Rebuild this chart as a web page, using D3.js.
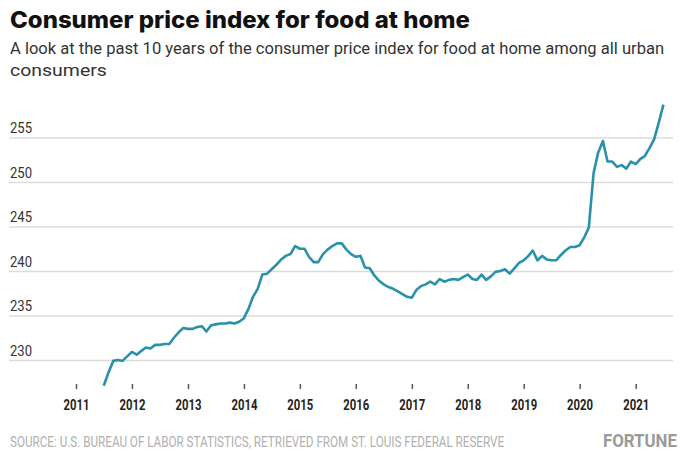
<!DOCTYPE html>
<html>
<head>
<meta charset="utf-8">
<script src="https://cdn.jsdelivr.net/npm/d3@7"></script>
<style>
  body { margin: 0; background: #fff; }
  svg { display: block; }
</style>
</head>
<body>
<script>
var width = 680, height = 452;

// monthly CPI, food at home, Jul 2011 .. Jul 2021
var startMonth = new Date(2011, 6, 1);
var cpi2011 = [227.1, 228.6, 229.9, 230.0, 229.9, 230.4];
var cpi2012 = [230.9, 230.6, 231.0, 231.4, 231.3, 231.7, 231.7, 231.8, 231.8, 232.5, 233.1, 233.6];
var cpi2013 = [233.5, 233.5, 233.7, 233.8, 233.2, 233.9, 234.0, 234.1, 234.1, 234.2, 234.1, 234.3];
var cpi2014 = [234.7, 235.8, 237.1, 238.0, 239.6, 239.7, 240.2, 240.7, 241.3, 241.7, 241.9, 242.8];
var cpi2015 = [242.5, 242.5, 241.6, 241.0, 241.0, 241.9, 242.4, 242.8, 243.1, 243.1, 242.4, 241.9];
var cpi2016 = [241.6, 241.7, 240.4, 240.3, 239.5, 238.9, 238.5, 238.2, 238.0, 237.7, 237.4, 237.1];
var cpi2017 = [237.0, 237.9, 238.3, 238.5, 238.8, 238.5, 239.1, 238.8, 239.0, 239.1, 239.0, 239.3];
var cpi2018 = [239.6, 239.1, 239.0, 239.6, 239.0, 239.4, 239.9, 240.0, 240.2, 239.7, 240.3, 240.9];
var cpi2019 = [241.2, 241.7, 242.3, 241.2, 241.7, 241.3, 241.2, 241.2, 241.8, 242.3, 242.7, 242.7];
var cpi2020 = [242.9, 243.8, 244.9, 251.0, 253.3, 254.6, 252.3, 252.3, 251.7, 251.9, 251.5, 252.3];
var cpi2021 = [252.0, 252.6, 252.9, 253.8, 254.8, 256.7, 258.7];

var yTicks = [230, 235, 240, 245, 250, 255];
var xYears = [2011, 2012, 2013, 2014, 2015, 2016, 2017, 2018, 2019, 2020, 2021];

var values = [].concat(cpi2011, cpi2012, cpi2013, cpi2014, cpi2015, cpi2016,
                       cpi2017, cpi2018, cpi2019, cpi2020, cpi2021);
var data = values.map(function (v, i) {
  return { date: d3.timeMonth.offset(startMonth, i), value: v };
});

var svg = d3.select("body").append("svg")
    .attr("width", width)
    .attr("height", height);

var narrow = "'Liberation Sans Narrow', Roboto, 'Noto Sans', sans-serif";

// squeeze a text horizontally so it spans w pixels from x
function fitText(sel, tx, ty, w) {
  var natural = sel.node().getComputedTextLength();
  sel.attr("x", 0).attr("y", 0)
     .attr("transform", "translate(" + tx + "," + ty + ") scale(" + (w / natural) + ",1)");
  return sel;
}

// title + subtitle
fitText(svg.append("text")
    .attr("font-family", "Inter, Roboto, sans-serif")
    .attr("font-weight", 800)
    .attr("font-size", 23)
    .attr("fill", "#111")
    .text("Consumer price index for food at home"), 10, 28, 460);

fitText(svg.append("text")
    .attr("font-family", narrow)
    .attr("font-size", 17)
    .attr("fill", "#333")
    .text("A look at the past 10 years of the consumer price index for food at home among all urban"), 10, 54, 655);

fitText(svg.append("text")
    .attr("font-family", narrow)
    .attr("font-size", 17)
    .attr("fill", "#333")
    .text("consumers"), 10, 76, 97);

var x = d3.scaleTime()
    .domain([new Date(2011, 0, 1), new Date(2021, 0, 1)])
    .range([76, 635.7]);

var y = d3.scaleLinear()
    .domain([225, 260])
    .range([404.5, 93]);

// y grid + labels
var gy = svg.append("g")
    .attr("transform", "translate(9,0)")
    .call(d3.axisRight(y).tickValues(yTicks).tickSize(664).tickFormat(d3.format("d")));
gy.select(".domain").remove();
gy.selectAll(".tick line").attr("stroke", "#dcdcdc").attr("stroke-width", 1.5);
gy.selectAll(".tick text")
    .attr("x", 1).attr("dy", -5)
    .attr("text-anchor", "start")
    .attr("font-family", narrow)
    .attr("font-size", 15)
    .attr("fill", "#333")
    .attr("textLength", 22)
    .attr("lengthAdjust", "spacingAndGlyphs");

// x axis
var gx = svg.append("g")
    .attr("transform", "translate(0,384)")
    .call(d3.axisBottom(x)
      .tickValues(xYears.map(function (d) { return new Date(d, 0, 1); }))
      .tickSize(5)
      .tickFormat(d3.timeFormat("%Y")));
gx.select(".domain").remove();
gx.selectAll(".tick line").attr("stroke", "#555").attr("stroke-width", 1.5);
gx.selectAll(".tick text")
    .attr("y", 26).attr("dy", 0)
    .attr("font-family", narrow)
    .attr("font-weight", "bold")
    .attr("font-size", 15)
    .attr("fill", "#222")
    .attr("textLength", 26)
    .attr("lengthAdjust", "spacingAndGlyphs");

// line
var line = d3.line()
    .x(function (d) { return x(d.date); })
    .y(function (d) { return y(d.value); });

svg.append("path")
    .datum(data)
    .attr("fill", "none")
    .attr("stroke", "#2a91aa")
    .attr("stroke-width", 2.6)
    .attr("stroke-linejoin", "round")
    .attr("d", line);

// footer
fitText(svg.append("text")
    .attr("font-family", narrow)
    .attr("font-size", 14)
    .attr("fill", "#b0b0b0")
    .text("SOURCE: U.S. BUREAU OF LABOR STATISTICS, RETRIEVED FROM ST. LOUIS FEDERAL RESERVE"), 10, 447, 495);

fitText(svg.append("text")
    .attr("font-family", narrow)
    .attr("font-weight", "bold")
    .attr("font-size", 18)
    .attr("fill", "#9a9a9a")
    .text("FORTUNE"), 603, 447, 74);
</script>
</body>
</html>
